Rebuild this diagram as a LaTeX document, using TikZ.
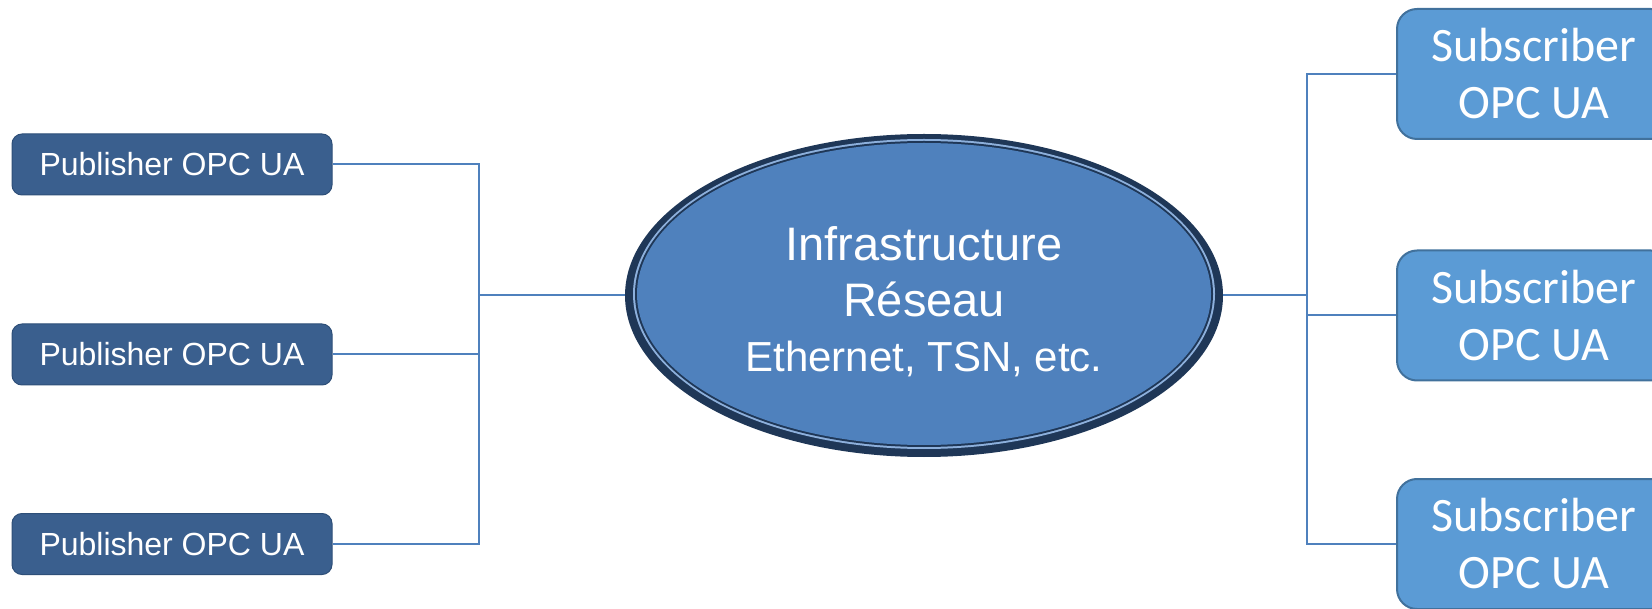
\documentclass[tikz,border=0pt]{standalone}
\usepackage{fontspec}
\setmainfont{Liberation Sans}
\newfontfamily\calibrifont{Carlito}
\usetikzlibrary{shapes.geometric}

\definecolor{linkblue}{HTML}{4F81BD}
\definecolor{pubfill}{HTML}{3A5F8E}
\definecolor{pubedge}{HTML}{2E4F78}
\definecolor{subfill}{HTML}{5B9BD5}
\definecolor{subedge}{HTML}{41719C}
\definecolor{netrim}{HTML}{1F3757}
\definecolor{netglow}{HTML}{8DB0DC}
\definecolor{netfill}{HTML}{4F81BD}

\begin{document}
\begin{tikzpicture}[x=1pt,y=-1pt,
  pubbox/.style={rectangle, rounded corners=10pt, fill=pubfill, draw=pubedge,
    line width=1pt, minimum width=320pt, minimum height=61pt, inner sep=0pt,
    text=white, font=\fontsize{32}{38}\selectfont, text height=23pt, text depth=0pt},
  subbox/.style={rectangle, rounded corners=20pt, fill=subfill, draw=subedge,
    line width=2pt, minimum width=274pt, minimum height=130pt, inner sep=0pt,
    text=white, align=center, font=\calibrifont\fontsize{48}{57}\selectfont},
  netshape/.style={ellipse, fill=netrim, minimum width=598pt, minimum height=323pt,
    inner sep=0pt,
    path picture={
      \fill[netglow] ([yshift=1.5pt]path picture bounding box.center)
        ellipse [x radius=291pt, y radius=155pt];
      \fill[netrim] ([yshift=1.5pt]path picture bounding box.center)
        ellipse [x radius=289pt, y radius=153pt];
      \fill[netfill] ([yshift=1.5pt]path picture bounding box.center)
        ellipse [x radius=287pt, y radius=151pt];
    }},
  nettext/.style={align=center, text=white, inner sep=0pt,
    font=\fontsize{47}{56.3}\selectfont},
  link/.style={draw=linkblue, line width=2pt}
]
\useasboundingbox (0,0) rectangle (1652,609);

% publishers on the left
\node[pubbox] (p1) at (172,164.5) {Publisher OPC UA};
\node[pubbox] (p2) at (172,354.5) {Publisher OPC UA};
\node[pubbox] (p3) at (172,544) {Publisher OPC UA};

% network infrastructure in the middle
\node[netshape] (net) at (924,295.5) {};
\node[nettext] (netlabel) at ([yshift=-6.5pt]net.center)
  {Infrastructure\\Réseau\\[-1.3pt]{\fontsize{42}{52}\selectfont Ethernet, TSN, etc.}};

% subscribers on the right
\node[subbox] (s1) at (1534,74) {Subscriber\\OPC UA};
\node[subbox] (s2) at (1534,315.5) {Subscriber\\OPC UA};
\node[subbox] (s3) at (1534,544) {Subscriber\\OPC UA};

% bus lines
\coordinate (lbus) at (479,0);
\coordinate (rbus) at (1307,0);

\draw[link] (p1.east) -- (p1.east -| lbus) -- (p3.east -| lbus) -- (p3.east);
\draw[link] (p2.east) -- (p2.east -| lbus);
\draw[link] (net.west -| lbus) -- (net.west);

\draw[link] (s1.west) -- (s1.west -| rbus) -- (s3.west -| rbus) -- (s3.west);
\draw[link] (s2.west) -- (s2.west -| rbus);
\draw[link] (net.east) -- (net.east -| rbus);
\end{tikzpicture}
\end{document}
